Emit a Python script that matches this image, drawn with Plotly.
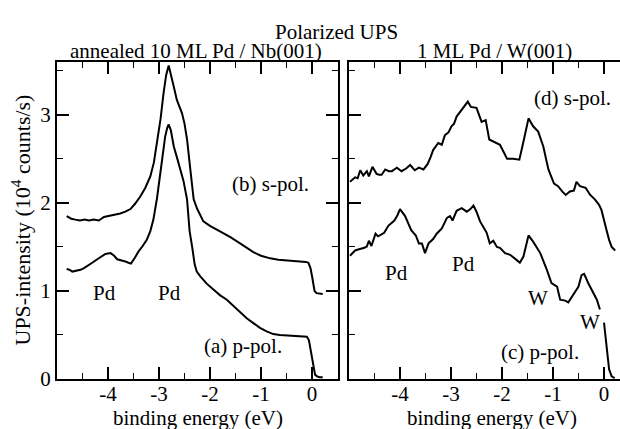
import plotly.graph_objects as go

# ---------------- data ----------------
# Left panel: annealed 10 ML Pd / Nb(001)
nb_s_x = [-4.81, -4.72, -4.64, -4.55, -4.46, -4.37, -4.28, -4.18, -4.08, -3.95, -3.85, -3.76, -3.66,
          -3.56, -3.47, -3.37, -3.27, -3.17, -3.10, -3.04, -2.97, -2.91, -2.86, -2.81, -2.76, -2.71,
          -2.65, -2.60, -2.55, -2.50, -2.45, -2.38, -2.32, -2.25, -2.19, -2.13, -2.00, -1.87, -1.74,
          -1.60, -1.41, -1.28, -1.15, -1.00, -0.82, -0.66, -0.50, -0.35, -0.23, -0.12, -0.07, -0.03,
          0.00, 0.02, 0.05, 0.09, 0.15, 0.21]
nb_s_y = [1.85, 1.82, 1.81, 1.80, 1.81, 1.80, 1.81, 1.80, 1.84, 1.855, 1.87, 1.88, 1.90,
          1.93, 1.99, 2.07, 2.17, 2.30, 2.46, 2.68, 2.95, 3.25, 3.45, 3.56, 3.45, 3.32,
          3.17, 3.09, 3.02, 2.90, 2.72, 2.35, 2.04, 1.93, 1.865, 1.79, 1.74, 1.70, 1.66,
          1.61, 1.54, 1.49, 1.44, 1.40, 1.37, 1.355, 1.35, 1.345, 1.335, 1.33, 1.32, 1.26,
          1.17, 1.08, 1.00, 0.975, 0.97, 0.965]

nb_p_x = [-4.81, -4.75, -4.70, -4.62, -4.54, -4.47, -4.41, -4.31, -4.21, -4.13, -4.05, -3.95, -3.88,
          -3.82, -3.74, -3.66, -3.60, -3.55, -3.47, -3.40, -3.32, -3.24, -3.17, -3.11, -3.04, -2.97,
          -2.92, -2.88, -2.84, -2.81, -2.77, -2.71, -2.64, -2.58, -2.52, -2.45, -2.40, -2.35, -2.30,
          -2.26, -2.19, -2.06, -1.93, -1.80, -1.67, -1.54, -1.41, -1.28, -1.15, -1.02, -0.89, -0.76,
          -0.63, -0.47, -0.30, -0.20, -0.10, -0.06, -0.03, 0.00, 0.03, 0.06, 0.10, 0.15, 0.21]
nb_p_y = [1.25, 1.24, 1.22, 1.23, 1.24, 1.26, 1.28, 1.32, 1.36, 1.39, 1.42, 1.43, 1.40,
          1.36, 1.35, 1.335, 1.32, 1.31, 1.38, 1.45, 1.51, 1.58, 1.68, 1.81, 2.05, 2.38,
          2.60, 2.75, 2.85, 2.89, 2.83, 2.64, 2.50, 2.38, 2.25, 2.04, 1.68, 1.50, 1.30,
          1.22, 1.165, 1.08, 1.01, 0.95, 0.90, 0.83, 0.75, 0.69, 0.635, 0.58, 0.54, 0.51,
          0.50, 0.495, 0.49, 0.485, 0.48, 0.44, 0.34, 0.22, 0.11, 0.05, 0.03, 0.02, 0.02]

# Right panel: 1 ML Pd / W(001)
w_s_x = [-4.98, -4.93, -4.88, -4.83, -4.78, -4.72, -4.65, -4.61, -4.54, -4.46, -4.41, -4.36, -4.29,
         -4.22, -4.16, -4.06, -3.97, -3.88, -3.80, -3.71, -3.63, -3.54, -3.46, -3.40, -3.35, -3.25,
         -3.18, -3.12, -3.05, -2.99, -2.94, -2.89, -2.79, -2.73, -2.67, -2.61, -2.50, -2.40, -2.32,
         -2.25, -2.17, -2.04, -1.97, -1.90, -1.78, -1.66, -1.57, -1.48, -1.39, -1.29, -1.19, -1.09,
         -0.98, -0.90, -0.82, -0.75, -0.67, -0.59, -0.54, -0.47, -0.36, -0.27, -0.18, -0.10, -0.05,
         0.00, 0.05, 0.10, 0.15, 0.22]
w_s_y = [2.24, 2.27, 2.29, 2.28, 2.37, 2.31, 2.36, 2.30, 2.41, 2.33, 2.32, 2.32, 2.38,
         2.36, 2.36, 2.40, 2.36, 2.39, 2.43, 2.37, 2.40, 2.38, 2.44, 2.52, 2.60, 2.68,
         2.66, 2.77, 2.80, 2.87, 2.90, 2.98, 3.06, 3.10, 3.15, 3.09, 3.08, 2.92, 2.94,
         2.72, 2.70, 2.66, 2.58, 2.50, 2.50, 2.49, 2.72, 2.96, 2.87, 2.81, 2.64, 2.38,
         2.22, 2.19, 2.13, 2.09, 2.13, 2.14, 2.24, 2.19, 2.17, 2.09, 2.04, 1.98, 1.92,
         1.82, 1.69, 1.58, 1.50, 1.46]

w_p_x = [-4.98, -4.93, -4.88, -4.82, -4.75, -4.70, -4.65, -4.61, -4.56, -4.48, -4.43, -4.37, -4.31,
         -4.23, -4.17, -4.11, -4.05, -4.00, -3.90, -3.84, -3.78, -3.69, -3.63, -3.57, -3.51, -3.44,
         -3.35, -3.28, -3.18, -3.08, -3.02, -2.97, -2.89, -2.79, -2.69, -2.62, -2.56, -2.50, -2.43,
         -2.36, -2.30, -2.24, -2.17, -2.10, -2.04, -1.94, -1.84, -1.71, -1.65, -1.58, -1.48, -1.39,
         -1.32, -1.25, -1.12, -1.03, -0.92, -0.86, -0.76, -0.70, -0.60, -0.50, -0.44, -0.39, -0.31,
         -0.21, -0.14, -0.08, -0.04, 0.00, 0.05, 0.10, 0.15, 0.21]
w_p_y = [1.40, 1.43, 1.46, 1.47, 1.48, 1.49, 1.505, 1.57, 1.51, 1.65, 1.62, 1.64, 1.66,
         1.74, 1.77, 1.80, 1.86, 1.93, 1.85, 1.77, 1.69, 1.63, 1.54, 1.54, 1.43, 1.54,
         1.59, 1.65, 1.71, 1.83, 1.85, 1.80, 1.91, 1.94, 1.90, 1.93, 1.97, 1.90, 1.79,
         1.72, 1.66, 1.54, 1.57, 1.50, 1.49, 1.43, 1.41, 1.35, 1.32, 1.39, 1.63, 1.56,
         1.50, 1.43, 1.24, 1.09, 1.05, 0.90, 0.89, 0.87, 0.96, 1.05, 1.18, 1.195, 1.09,
         0.97, 0.90, 0.79, None, 0.64, 0.37, 0.11, 0.03, 0.01]

x_tickvals = [-4, -3, -2, -1, 0]
x_ticktext = ["-4", "-3", "-2", "-1", "0"]
x_minorvals = [-4.5, -3.5, -2.5, -1.5, -0.5]
y_tickvals = [0, 1, 2, 3]
y_ticktext = ["0", "1", "2", "3"]
y_minorvals = [0.5, 1.5, 2.5, 3.5]

FONT = "Liberation Serif, Times New Roman, DejaVu Serif, serif"
FS = 21

fig = go.Figure()
line = dict(color="black", width=2)
fig.add_trace(go.Scatter(x=nb_s_x, y=nb_s_y, mode="lines", line=line, xaxis="x", yaxis="y", showlegend=False))
fig.add_trace(go.Scatter(x=nb_p_x, y=nb_p_y, mode="lines", line=line, xaxis="x", yaxis="y", showlegend=False))
fig.add_trace(go.Scatter(x=w_s_x, y=w_s_y, mode="lines", line=line, xaxis="x2", yaxis="y2", showlegend=False))
fig.add_trace(go.Scatter(x=w_p_x, y=w_p_y, mode="lines", line=line, xaxis="x2", yaxis="y2",
                         connectgaps=False, showlegend=False))

W, H = 620, 429
ML, MR, MT, MB = 57, 0, 62, 50
PW = W - ML - MR


def px2paper_x(p):
    return (p - ML) / PW


def px2paper_y(p):
    return (H - MB - p) / (H - MT - MB)


common = dict(showline=True, linewidth=2, linecolor="black", ticks="inside", ticklen=12,
              tickwidth=2, tickcolor="black", showgrid=False, zeroline=False,
              tickfont=dict(family=FONT, size=FS, color="black"))
xcommon = dict(common, tickmode="array", tickvals=x_tickvals, ticktext=x_ticktext,
               ticklabelstandoff=-5,
               minor=dict(ticks="inside", ticklen=6, tickwidth=1, tickcolor="black",
                          tickmode="array", tickvals=x_minorvals))
ycommon = dict(common, tickmode="array", tickvals=y_tickvals, ticktext=y_ticktext, range=[0, 3.6],
               minor=dict(ticks="inside", ticklen=6, tickwidth=1, tickcolor="black",
                          tickmode="array", tickvals=y_minorvals))

fig.update_layout(
    width=W, height=H,
    margin=dict(l=ML, r=MR, t=MT, b=MB, pad=0),
    paper_bgcolor="white", plot_bgcolor="white",
    font=dict(family=FONT, size=FS, color="black"),
    xaxis=dict(xcommon, domain=[0, px2paper_x(337.5)], range=[-5, 0.5], mirror="allticks", anchor="y"),
    yaxis=dict(ycommon, domain=[0, 1], mirror="allticks", anchor="x"),
    xaxis2=dict(xcommon, domain=[px2paper_x(349), 1], range=[-5, -5 + 271 / 51.0], mirror="allticks",
                anchor="y2"),
    yaxis2=dict(ycommon, domain=[0, 1], mirror=False, anchor="x2", showticklabels=False),
)

ann = []


def txt(text, x, y, xref, yref, size=FS, **kw):
    ann.append(dict(text=text, x=x, y=y, xref=xref, yref=yref, showarrow=False,
                    xanchor="center", yanchor="middle",
                    font=dict(family=FONT, size=size, color="black"), **kw))


# titles
txt("Polarized UPS", px2paper_x(336), px2paper_y(32), "paper", "paper")
txt("annealed 10 ML Pd / Nb(001)", px2paper_x(196), px2paper_y(51.5), "paper", "paper")
txt("1 ML Pd / W(001)", px2paper_x(494), px2paper_y(51.5), "paper", "paper")
txt("binding energy (eV)", px2paper_x(198), px2paper_y(417.5), "paper", "paper")
txt("binding energy (eV)", px2paper_x(491.7), px2paper_y(417.5), "paper", "paper")
txt("UPS-intensity (10<sup>4</sup> counts/s)", px2paper_x(20), 0.5, "paper", "paper", size=22,
    textangle=-90)

# panel labels
txt("(b) s-pol.", -0.82, 2.21, "x", "y")
txt("(a) p-pol.", -1.35, 0.37, "x", "y")
txt("Pd", -4.07, 0.98, "x", "y")
txt("Pd", -2.80, 0.98, "x", "y")
txt("(d) s-pol.", -0.61, 3.19, "x2", "y2")
txt("(c) p-pol.", -1.25, 0.31, "x2", "y2")
txt("Pd", -4.07, 1.20, "x2", "y2")
txt("Pd", -2.75, 1.31, "x2", "y2")
txt("W", -1.29, 0.92, "x2", "y2")
txt("W", -0.27, 0.65, "x2", "y2")

fig.update_layout(annotations=ann)
fig.write_html("out.html")
